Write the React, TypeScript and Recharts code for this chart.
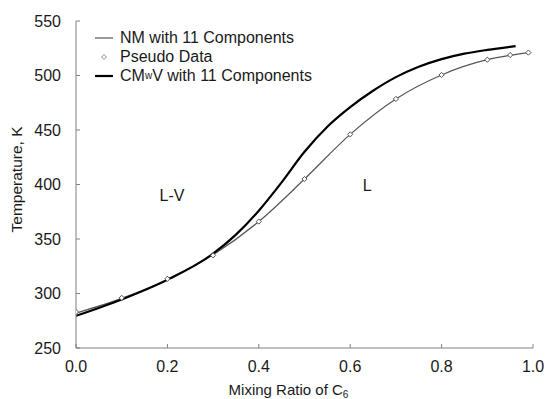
import React from "react";
import {
  ComposedChart,
  Line,
  XAxis,
  YAxis,
  ReferenceDot,
  Label,
} from "recharts";

// Mixing ratio of C6 for the pseudo data / NM curve
const mixRatio = [0, 0.1, 0.2, 0.3, 0.4, 0.5, 0.6, 0.7, 0.8, 0.9, 0.95, 0.99];
const pseudoTemp = [283, 296, 313.5, 335, 366, 405, 446, 478.5, 500.5, 514.5, 518.8, 521];
const nmTemp = [282, 295.5, 313, 335.5, 366, 405, 446, 478.5, 500.5, 514.5, 518.5, 521];

// CMwV curve
const cmwvRatio = [0, 0.1, 0.2, 0.3, 0.35, 0.4, 0.45, 0.5, 0.55, 0.6, 0.65, 0.7, 0.75, 0.8, 0.85, 0.9, 0.962];
const cmwvTemp = [279.5, 294.5, 312.5, 336.5, 354, 376, 402, 430, 453, 471, 486, 498.5, 508, 515, 520, 523.5, 527];

const xTicks = [0, 0.2, 0.4, 0.6, 0.8, 1.0];
const yTicks = [250, 300, 350, 400, 450, 500, 550];

const regionLabels = [
  { x: 0.21, y: 390, text: "L-V" },
  { x: 0.637, y: 399.5, text: "L" },
];

const pseudoData = mixRatio.map((x, i) => ({ x, t: pseudoTemp[i] }));
const nmData = mixRatio.map((x, i) => ({ x, t: nmTemp[i] }));
const cmwvData = cmwvRatio.map((x, i) => ({ x, t: cmwvTemp[i] }));

const FONT = "'Liberation Sans', Arial, Helvetica, sans-serif";
const TEXT = "#1a1a1a";
const AXIS = "#808080";

const Diamond = (props: any) => {
  const { cx, cy } = props;
  if (cx == null || cy == null) return null;
  const r = 2.6;
  return (
    <polygon
      points={`${cx},${cy - r} ${cx + r},${cy} ${cx},${cy + r} ${cx - r},${cy}`}
      fill="#fff"
      stroke="#555"
      strokeWidth={1}
    />
  );
};

const LegendBox = () => {
  const row: React.CSSProperties = {
    display: "flex",
    alignItems: "center",
    height: 19,
    fontSize: 16,
    color: TEXT,
    fontFamily: FONT,
    whiteSpace: "nowrap",
  };
  const sample: React.CSSProperties = {
    width: 18,
    marginRight: 7,
    display: "flex",
    alignItems: "center",
    justifyContent: "center",
  };
  return (
    <div style={{ position: "absolute", left: 95, top: 28, pointerEvents: "none" }}>
      <div style={row}>
        <span style={sample}>
          <svg width={18} height={4}>
            <line x1={0} y1={2} x2={18} y2={2} stroke="#555" strokeWidth={1.2} />
          </svg>
        </span>
        NM with 11 Components
      </div>
      <div style={row}>
        <span style={sample}>
          <svg width={8} height={8}>
            <polygon points="4,1.5 6.5,4 4,6.5 1.5,4" fill="#fff" stroke="#777" strokeWidth={0.8} />
          </svg>
        </span>
        Pseudo Data
      </div>
      <div style={row}>
        <span style={sample}>
          <svg width={18} height={4}>
            <line x1={0} y1={2} x2={18} y2={2} stroke="#000" strokeWidth={2.2} />
          </svg>
        </span>
        CM<sub style={{ fontSize: 10, verticalAlign: "-4px", lineHeight: 0 }}>w</sub>V with 11 Components
      </div>
    </div>
  );
};

const XTitle = (props: any) => {
  const vb = props.viewBox || {};
  const cx = (vb.x || 0) + (vb.width || 0) / 2;
  return (
    <text x={cx - 16} y={395} textAnchor="middle" fontSize={15} fill={TEXT} fontFamily={FONT}>
      <tspan>Mixing Ratio of C</tspan>
      <tspan fontSize={10} dy={3}>6</tspan>
    </text>
  );
};

export default function App() {
  return (
    <div style={{ position: "absolute", left: 0, top: 0, width: 546, height: 399, background: "#fff" }}>
      <ComposedChart
        width={546}
        height={399}
        margin={{ top: 21, right: 13, bottom: 0, left: 0 }}
        style={{ fontFamily: FONT }}
      >
        <XAxis
          type="number"
          dataKey="x"
          domain={[0, 1]}
          ticks={xTicks}
          tickFormatter={(v: number) => v.toFixed(1)}
          height={51}
          allowDataOverflow
          stroke={AXIS}
          tickSize={-4}
          tickMargin={17}
          tick={{ fill: TEXT, fontSize: 16, fontFamily: FONT }}
          tickLine={{ stroke: AXIS }}
        >
          <Label content={<XTitle />} />
        </XAxis>
        <XAxis
          xAxisId="top"
          orientation="top"
          type="number"
          domain={[0, 1]}
          height={0}
          tick={false}
          tickLine={false}
          stroke={AXIS}
        />
        <YAxis
          type="number"
          dataKey="t"
          domain={[250, 550]}
          ticks={yTicks}
          width={76}
          allowDataOverflow
          stroke={AXIS}
          tickSize={-4}
          tickMargin={19}
          tick={{ fill: TEXT, fontSize: 16, fontFamily: FONT }}
          tickLine={{ stroke: AXIS }}
        >
          <Label
            value="Temperature, K"
            angle={-90}
            position="insideLeft"
            offset={0}
            dx={16}
            dy={-5}
            style={{ textAnchor: "middle", fontSize: 15.5, fill: TEXT, fontFamily: FONT }}
          />
        </YAxis>
        <YAxis
          yAxisId="right"
          orientation="right"
          type="number"
          domain={[250, 550]}
          width={0}
          tick={false}
          tickLine={false}
          stroke={AXIS}
        />
        <Line
          data={nmData}
          dataKey="t"
          type="monotone"
          stroke="#555"
          strokeWidth={1.2}
          dot={false}
          isAnimationActive={false}
          legendType="none"
        />
        <Line
          data={pseudoData}
          dataKey="t"
          stroke="none"
          dot={<Diamond />}
          isAnimationActive={false}
          legendType="none"
        />
        <Line
          data={cmwvData}
          dataKey="t"
          type="monotone"
          stroke="#000"
          strokeWidth={2.2}
          dot={false}
          isAnimationActive={false}
          legendType="none"
        />
        {regionLabels.map((l) => (
          <ReferenceDot
            key={l.text}
            x={l.x}
            y={l.y}
            r={0}
            fill="none"
            stroke="none"
            label={{ value: l.text, position: "center", fontSize: 16, fill: TEXT, fontFamily: FONT }}
          />
        ))}
      </ComposedChart>
      <LegendBox />
    </div>
  );
}
